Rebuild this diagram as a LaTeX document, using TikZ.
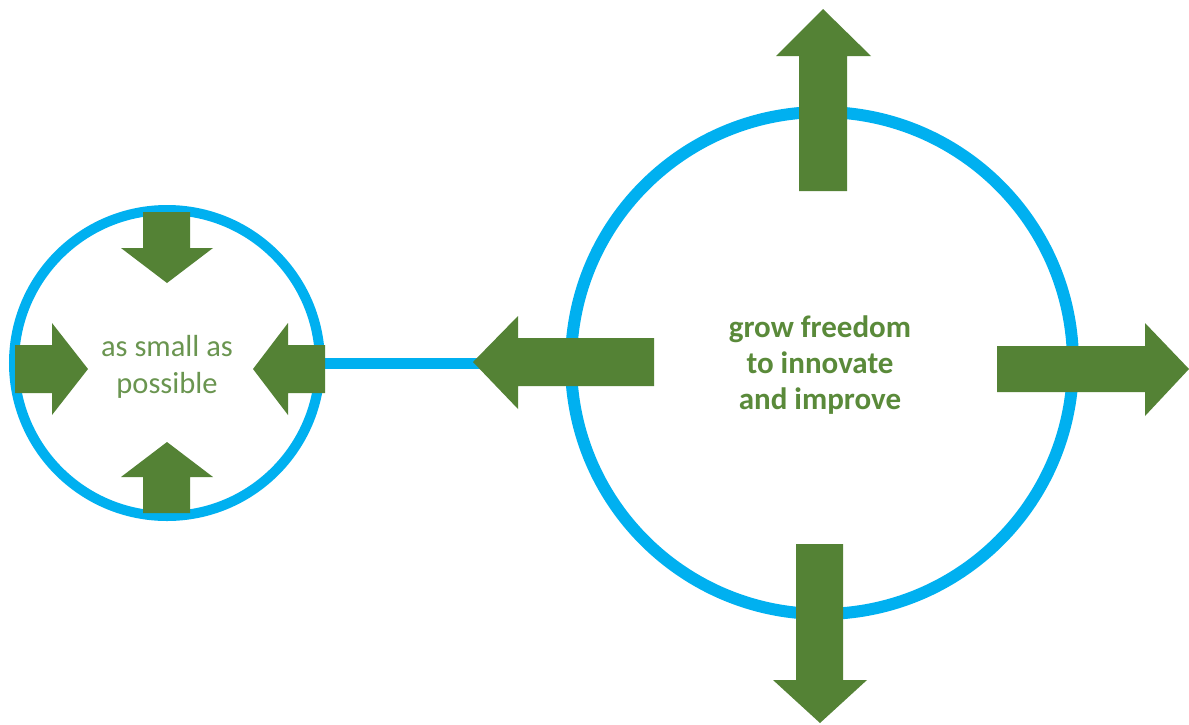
\documentclass[tikz,border=0pt]{standalone}
\usepackage{fontspec}
\setmainfont{Carlito}
\definecolor{ringblue}{HTML}{00B0F0}
\definecolor{agreen}{HTML}{548235}
\definecolor{tgreen}{HTML}{6A9550}
\definecolor{bgreen}{HTML}{5A8A3A}
\tikzset{
  ring/.style={draw=ringblue, circle, inner sep=0pt},
  conn/.style={draw=ringblue, line width=11pt},
  garrow/.style={fill=agreen, draw=none},
  smalltxt/.style={text=tgreen, font=\fontsize{30.5}{37}\selectfont, align=center},
  bigtxt/.style={text=bgreen, font=\fontsize{31}{36}\selectfont\bfseries, align=center}
}
\begin{document}
\begin{tikzpicture}[x=1pt,y=-1pt]
\useasboundingbox[fill=white] (0,0) rectangle (1189,724);
% circles
\node[ring, line width=10pt, minimum size=306pt] (small) at (167,363) {};
\node[ring, line width=12pt, minimum size=502pt] (big) at (822,363) {};
\draw[conn] (small.east) -- (big.west);
% small circle arrows
\fill[garrow] (143,212) -- (190,212) -- (190,248) -- (213,248) -- (167,283) -- (121,248) -- (143,248) -- cycle;
\fill[garrow] (167,442) -- (213,477) -- (190,477) -- (190,513) -- (143,513) -- (143,477) -- (121,477) -- cycle;
\fill[garrow] (15,345) -- (52,345) -- (52,323) -- (88,369) -- (52,415) -- (52,393) -- (15,393) -- cycle;
\fill[garrow] (253,369) -- (288,323) -- (288,345) -- (325,345) -- (325,393) -- (288,393) -- (288,415) -- cycle;
% big circle arrows
\fill[garrow] (473,362) -- (518,316) -- (518,338) -- (654,338) -- (654,386) -- (518,386) -- (518,409) -- cycle;
\fill[garrow] (997,346) -- (1145,346) -- (1145,323) -- (1189,369) -- (1145,416) -- (1145,392) -- (997,392) -- cycle;
\fill[garrow] (823,9) -- (871,56) -- (847,56) -- (847,191) -- (799,191) -- (799,56) -- (776,56) -- cycle;
\fill[garrow] (796,544) -- (843,544) -- (843,680) -- (867,680) -- (820,723) -- (773,680) -- (796,680) -- cycle;
% texts
\node[smalltxt] (stext) at (167,367) {as small as\\possible};
\node[bigtxt] (btext) at (820,365) {grow freedom\\to innovate\\and improve};
\end{tikzpicture}
\end{document}
